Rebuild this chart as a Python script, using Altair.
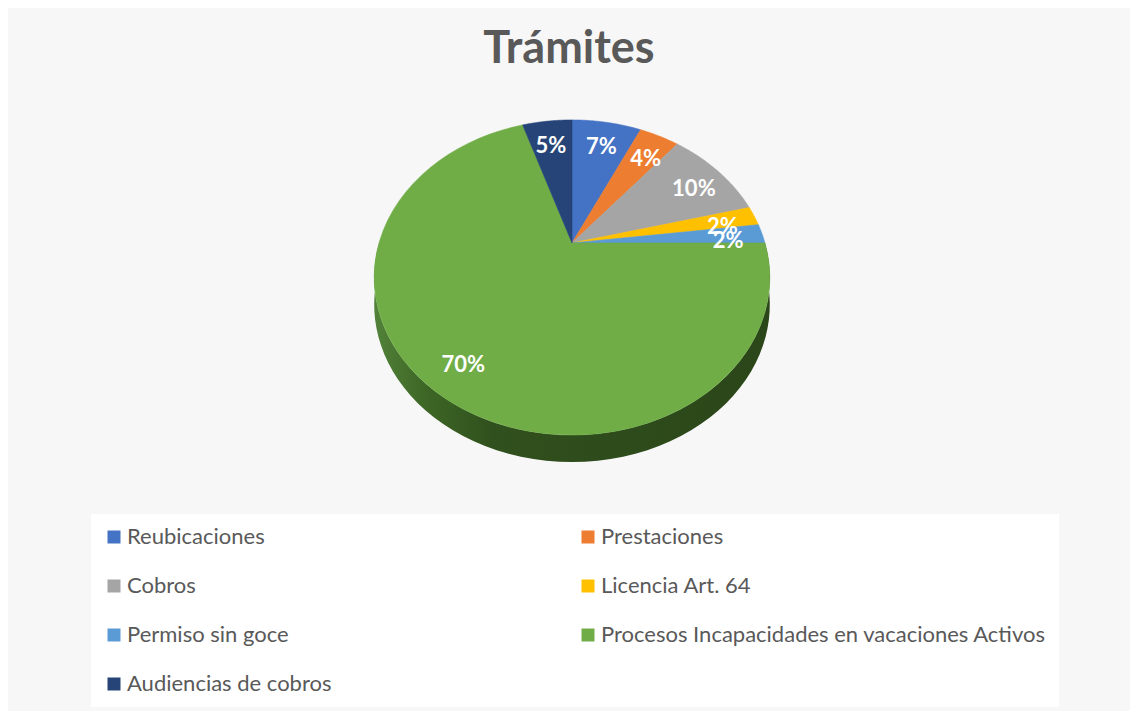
import altair as alt
import pandas as pd

# ---- data ----
categories = [
    "Reubicaciones",
    "Prestaciones",
    "Cobros",
    "Licencia Art. 64",
    "Permiso sin goce",
    "Procesos Incapacidades en vacaciones Activos",
    "Audiencias de cobros",
]
values = [7, 4, 10, 2, 2, 70, 5]
colors = ["#4472C4", "#ED7D31", "#A5A5A5", "#FFC000", "#5B9BD5", "#70AD47", "#264478"]
title_text = "Trámites"

# legend is filled column by column, so list entries so rows read in category order
legend_cols = 2
legend_rows = (len(categories) + legend_cols - 1) // legend_cols
legend_order = [categories[r * legend_cols + c] for c in range(legend_cols)
                for r in range(legend_rows) if r * legend_cols + c < len(categories)]

# ---- layout / style constants ----
W, H = 1122, 628
PAD_TOP = 75
CX, CY = 564, 160          # pie centre inside the plot area
R, S, K = 193, 150, 0.219  # horizontal radius, vertical radius, perspective factor
DEPTH = 27
N = 60
LABEL_F = 0.82
FONT = "Lato"

df = pd.DataFrame({"cat": categories, "value": values, "order": list(range(len(values)))})

xs = alt.Scale(domain=[0, W], range=[0, W], nice=False, zero=False)
ys = alt.Scale(domain=[0, H], range=[0, H], nice=False, zero=False)

base = (
    alt.Chart(df)
    .transform_window(cum="sum(value)", sort=[alt.SortField("order")], frame=[None, 0])
    .transform_joinaggregate(total="sum(value)")
    .transform_calculate(
        a0="2*PI*(datum.cum - datum.value)/datum.total",
        a1="2*PI*datum.cum/datum.total",
    )
)

proj_x = f"{CX} + {R}*datum.u/(1+{K}*datum.v)"
proj_y = f"{CY} - {S}*datum.v/(1+{K}*datum.v) + datum.dz"

# front side (depth) of the pie
side = (
    base.transform_calculate(
        b0="max(datum.a0, PI/2)",
        b1="min(datum.a1, 3*PI/2)",
    )
    .transform_filter("datum.b1 > datum.b0")
    .transform_calculate(k=f"sequence(0, {2 * N + 2})")
    .transform_flatten(["k"])
    .transform_calculate(
        t=f"datum.k <= {N} ? datum.k/{N} : ({2 * N + 1} - datum.k)/{N}",
        dz=f"datum.k <= {N} ? 0 : {DEPTH}",
    )
    .transform_calculate(a="datum.b0 + (datum.b1 - datum.b0)*datum.t")
    .transform_calculate(u="sin(datum.a)", v="cos(datum.a)")
    .transform_calculate(px=proj_x, py=proj_y)
    .mark_line(
        filled=True,
        interpolate="linear-closed",
        strokeWidth=0,
        color=alt.LinearGradient(
            gradient="linear",
            x1=0, x2=1, y1=0, y2=0,
            stops=[
                alt.GradientStop(color="#52823A", offset=0),
                alt.GradientStop(color="#3E6826", offset=0.12),
                alt.GradientStop(color="#30501D", offset=0.3),
                alt.GradientStop(color="#2B4619", offset=1),
            ],
        ),
    )
    .encode(
        x=alt.X("px:Q", scale=xs, axis=None),
        y=alt.Y("py:Q", scale=ys, axis=None),
        order="k:Q",
        detail="cat:N",
    )
)

color_scale = alt.Scale(domain=categories, range=colors)

wedges = (
    base.transform_calculate(k=f"sequence(0, {N + 2})")
    .transform_flatten(["k"])
    .transform_calculate(a=f"datum.a0 + (datum.a1 - datum.a0)*(datum.k - 1)/{N}", dz="0")
    .transform_calculate(
        u="datum.k == 0 ? 0 : sin(datum.a)",
        v="datum.k == 0 ? 0 : cos(datum.a)",
    )
    .transform_calculate(px=proj_x, py=proj_y)
    .mark_line(filled=True, interpolate="linear-closed", strokeWidth=0.6)
    .encode(
        x=alt.X("px:Q", scale=xs, axis=None),
        y=alt.Y("py:Q", scale=ys, axis=None),
        order="k:Q",
        color=alt.Color(
            "cat:N",
            scale=color_scale,
            legend=alt.Legend(
                title=None,
                values=legend_order,
                orient="none",
                legendX=83,
                legendY=431,
                columns=legend_cols,
                columnPadding=245,
                rowPadding=27,
                symbolType="square",
                symbolSize=169,
                symbolStrokeWidth=0,
                labelFont=FONT,
                labelFontSize=22,
                labelColor="#595959",
                labelOffset=2,
                labelLimit=0,
                fillColor="white",
                padding=12,
            ),
        ),
        stroke=alt.Stroke("cat:N", scale=color_scale, legend=None),
    )
)

labels = (
    base.transform_calculate(am="(datum.a0 + datum.a1)/2", dz="6")
    .transform_calculate(u=f"{LABEL_F}*sin(datum.am)", v=f"{LABEL_F}*cos(datum.am)")
    .transform_calculate(
        px=proj_x,
        py=proj_y,
        label="format(datum.value/datum.total, '.0%')",
    )
    .mark_text(font=FONT, fontSize=22, fontWeight="bold", color="white", align="center", baseline="middle")
    .encode(
        x=alt.X("px:Q", scale=xs, axis=None),
        y=alt.Y("py:Q", scale=ys, axis=None),
        text="label:N",
    )
)

chart = (
    alt.layer(side, wedges, labels)
    .properties(
        width=W,
        height=H,
        title=alt.TitleParams(
            title_text,
            anchor="middle",
            font=FONT,
            fontSize=45,
            fontWeight="bold",
            color="#595959",
            offset=11,
        ),
        autosize=alt.AutoSizeParams(type="none"),
        padding={"top": PAD_TOP, "left": 0, "right": 0, "bottom": 0},
        background="#F7F7F7",
    )
    .configure_view(stroke=None)
)

chart.save("out.html", embed_options={"renderer": "svg", "actions": False})
